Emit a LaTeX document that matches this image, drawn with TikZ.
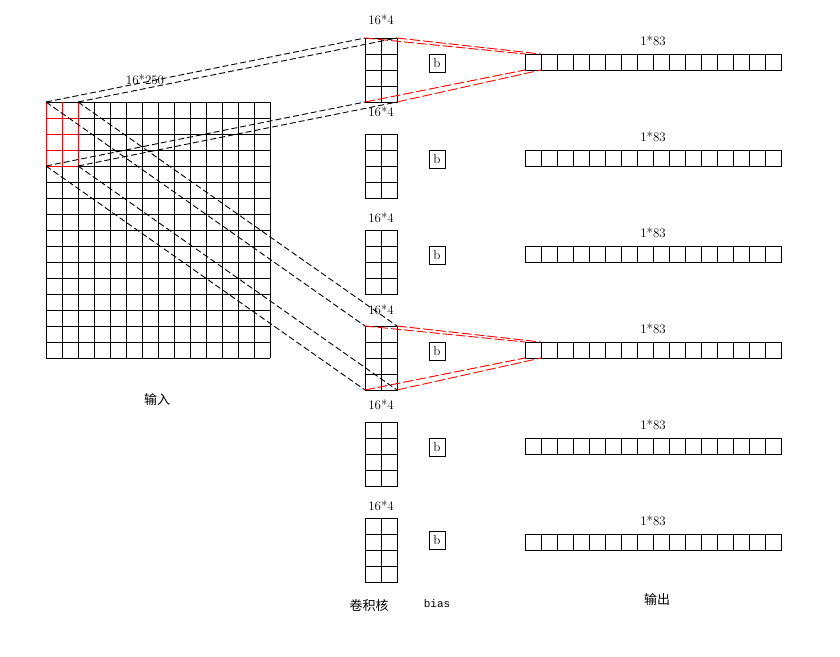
\documentclass[tikz,border=0pt]{standalone}
\usepackage{fontspec}
\newfontfamily\cjk{Noto Sans CJK SC}
\setmonofont{Liberation Mono}
\usetikzlibrary{positioning}
\begin{document}
\begin{tikzpicture}[x=1pt, y=-1pt, line width=0.9pt,
    lbl/.style={font=\fontsize{13}{15}\selectfont},
    cjklbl/.style={font=\cjk\fontsize{13}{15}\selectfont},
    kern/.style={draw, minimum width=32pt, minimum height=64pt, inner sep=0pt, outer sep=0pt, anchor=north west},
    ocell/.style={draw, minimum size=16pt, inner sep=0pt, outer sep=0pt, anchor=north west},
    bbox/.style={draw, minimum width=16pt, minimum height=18pt, inner sep=0pt, font=\fontsize{13}{15}\selectfont},
    bdash/.style={dash pattern=on 6pt off 3pt},
    rdash/.style={red, dash pattern=on 10pt off 3pt}]
    \useasboundingbox (0,0) rectangle (840,656);
    % input 16*250
    \foreach \i in {0,...,14} \draw (46+16*\i,102) -- (46+16*\i,358);
    \foreach \j in {0,...,16} \draw (46,102+16*\j) -- (270,102+16*\j);
    \foreach \i in {0,1,2} \draw[red] (46+16*\i,102) -- (46+16*\i,166);
    \foreach \j in {1,...,4} \draw[red] (46,102+16*\j) -- (78,102+16*\j);
    \node[minimum width=32pt, minimum height=64pt, inner sep=0pt, outer sep=0pt, anchor=north west] (win) at (46,102) {};
    \node[lbl] (inlbl) at (145,80) {16*250};
    \node[cjklbl] (intxt) at (157,400) {输入};
    % kernels
    \foreach \k [evaluate=\k as \y using 38+96*(\k-1)] in {1,...,6} {
        \node[kern] (k\k) at (365,\y) {};
        \draw (k\k.north) -- (k\k.south);
        \foreach \j in {1,2,3} \draw (365,\y+16*\j) -- (397,\y+16*\j);
    }
    \foreach \k/\y in {1/20,2/112,3/218,4/310,5/405,6/506}
        \node[lbl] (kl\k) at (381,\y) {16*4};
    % bias
    \foreach \k/\y in {1/63,2/159,3/255,4/351,5/447,6/540}
        \node[bbox] (b\k) at (437,\y) {b};
    % outputs 1*83
    \foreach \k [evaluate=\k as \y using 54+96*(\k-1), evaluate=\k as \t using 41+96*(\k-1)] in {1,...,6} {
        \foreach \i in {0,...,15} \node[ocell] (o\k-\i) at (525+16*\i,\y) {};
        \node[lbl] (ol\k) at (653,\t) {1*83};
    }
    % connectors
    \foreach \a in {north west, north east, south west, south east} {
        \draw[bdash] (win.\a) -- (k1.\a);
        \draw[bdash] (win.\a) -- (k4.\a);
        \draw[rdash] (k1.\a) -- (o1-0.\a);
        \draw[rdash] (k4.\a) -- (o4-0.\a);
    }
    \node[cjklbl] (ktxt) at (369,606) {卷积核};
    \node[font=\ttfamily\fontsize{11}{13}\selectfont] (btxt) at (437,604) {bias};
    \node[cjklbl] (otxt) at (657,600) {输出};
\end{tikzpicture}
\end{document}
